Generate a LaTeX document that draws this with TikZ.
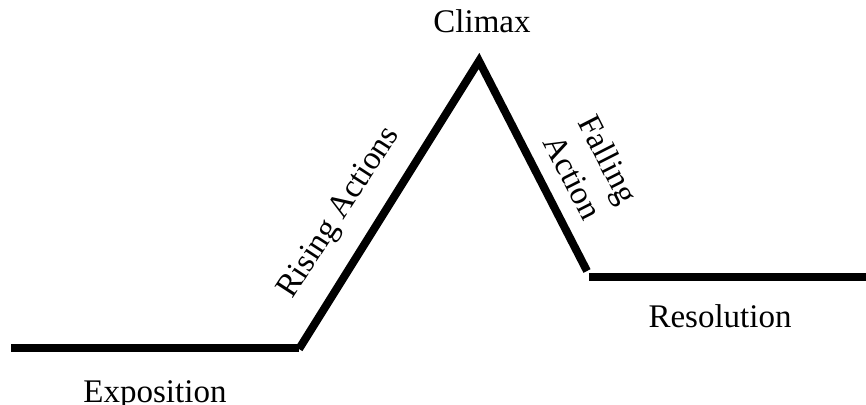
\documentclass[tikz,border=0pt]{standalone}
\usepackage{fontspec}
\setmainfont{Liberation Serif}
\usepackage{tikz}
\usetikzlibrary{positioning,calc}
\tikzset{
  plotline/.style={line width=8pt,draw=black,line cap=butt},
  stage/.style={font=\fontsize{33}{40}\selectfont,inner sep=0pt},
  slanted/.style={stage,anchor=base west}
}

\begin{document}
\begin{tikzpicture}[x=1pt,y=-1pt]
  \useasboundingbox (0,0) rectangle (866,404);

  % Corners of the plot line
  \coordinate (start) at (11,348);
  \coordinate (rise) at (299,348);
  \coordinate (peak) at (479,61);
  \coordinate (fall) at (587,271);
  \coordinate (drop) at (589,277);
  \coordinate (finish) at (866,277);

  % Plot line
  \draw[plotline] (start) -- (rise);
  \draw[plotline,line join=miter] ([yshift=-1pt]rise) -- (peak) -- (fall);
  \draw[plotline] (drop) -- (finish);

  % Stage labels
  \node[stage,anchor=base] (climax) at (482,33) {Climax};
  \node[stage,anchor=base] (expo) at (155,402) {Exposition};
  \node[stage,anchor=base] (reso) at (720,327) {Resolution};
  \node[slanted,rotate=57] (rising) at (292,300) {Rising Actions};
  \node[stage,rotate=-63,align=center] (falling) at (591,168) {Falling\\Action};
\end{tikzpicture}
\end{document}
